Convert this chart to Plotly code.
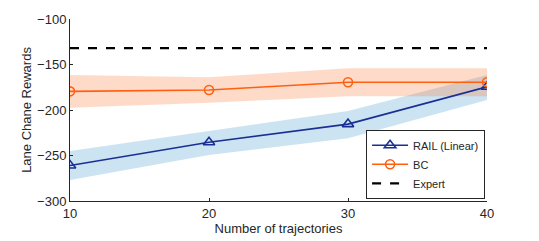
import plotly.graph_objects as go

trajectories = [10, 20, 30, 40]
rail_mean = [-261, -235.5, -215.5, -174.5]
rail_upper = [-245, -223, -201, -161.5]
rail_lower = [-277, -249.5, -231, -189]
bc_mean = [-179.5, -178, -169.5, -169.5]
bc_upper = [-161.5, -164, -154, -154]
bc_lower = [-197.5, -192, -185, -185]
expert_value = -132

x_ticks = [10, 20, 30, 40]
y_ticks = [-300, -250, -200, -150, -100]

blue = "#1a2f94"
orange = "#ff6010"

fig = go.Figure()

fig.add_trace(go.Scatter(
    x=trajectories + trajectories[::-1],
    y=rail_upper + rail_lower[::-1],
    fill="toself", fillcolor="rgba(0,114,189,0.2)",
    line=dict(width=0), mode="lines", showlegend=False, hoverinfo="skip"))
fig.add_trace(go.Scatter(
    x=trajectories + trajectories[::-1],
    y=bc_upper + bc_lower[::-1],
    fill="toself", fillcolor="rgba(250,110,40,0.25)",
    line=dict(width=0), mode="lines", showlegend=False, hoverinfo="skip"))

fig.add_trace(go.Scatter(
    x=trajectories, y=rail_mean, mode="lines+markers", name="RAIL (Linear)",
    line=dict(color=blue, width=1.6),
    marker=dict(symbol="triangle-up-open", size=10, color=blue, line=dict(width=1.6, color=blue))))
fig.add_trace(go.Scatter(
    x=trajectories, y=bc_mean, mode="lines+markers", name="BC",
    line=dict(color=orange, width=1.6),
    marker=dict(symbol="circle-open", size=9, color=orange, line=dict(width=1.6, color=orange))))
fig.add_trace(go.Scatter(
    x=[trajectories[0], trajectories[-1]], y=[expert_value, expert_value], mode="lines", name="Expert",
    line=dict(color="black", width=2.2, dash="dash")))

axis_font = dict(family="Liberation Sans, Arial, sans-serif", size=13, color="#262626")

# the page body has an 8px default margin, so the figure is offset by 8px
fig.update_layout(
    width=531, height=233,
    margin=dict(l=62, r=52, t=11, b=40),
    plot_bgcolor="white", paper_bgcolor="white",
    font=axis_font,
    xaxis=dict(range=[10, 40], tickvals=x_ticks, showgrid=False, zeroline=False,
               showline=True, linecolor="#262626", linewidth=1, ticks="inside", ticklen=3,
               tickcolor="#262626", tickfont=axis_font, automargin=False,
               title=dict(text="Number of trajectories", font=axis_font, standoff=4)),
    yaxis=dict(range=[-300, -100], tickvals=y_ticks, showgrid=False, zeroline=False,
               showline=True, linecolor="#262626", linewidth=1, ticks="inside", ticklen=3,
               tickcolor="#262626", tickfont=axis_font, automargin=False,
               title=dict(text="Lane Chane Rewards", font=axis_font, standoff=2)),
    legend=dict(x=0.71, y=0.012, xanchor="left", yanchor="bottom",
                bordercolor="#262626", borderwidth=1, bgcolor="white",
                font=dict(family="Liberation Sans, Arial, sans-serif", size=11, color="#262626"),
                tracegroupgap=0, itemwidth=36),
)

fig.write_html("out.html")
